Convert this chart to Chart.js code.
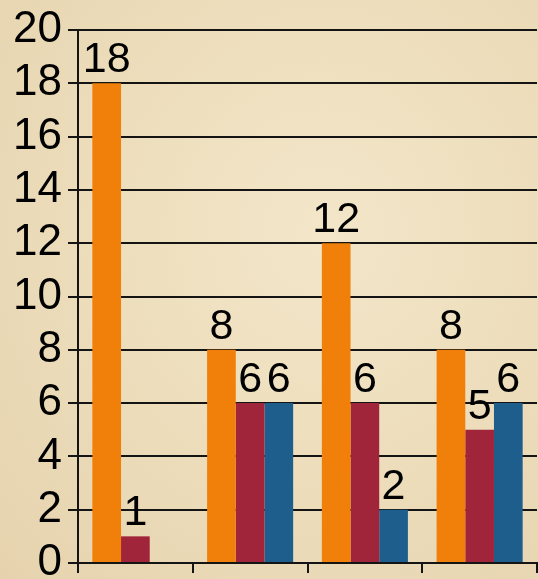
<!DOCTYPE html>
<html>
<head>
<meta charset="utf-8">
<script src="https://cdn.jsdelivr.net/npm/chart.js@4"></script>
<style>
  html, body { margin: 0; padding: 0; }
  body {
    width: 538px; height: 579px; overflow: hidden;
    background: radial-gradient(ellipse at 60% 40%, #f3e6c9 0%, #ecdcba 55%, #e6d3ae 100%);
  }
  #wrap { position: relative; width: 538px; height: 579px; }
</style>
</head>
<body>
<div id="wrap"><canvas id="chart"></canvas></div>
<script>
// --- data ---
const categories = ['A', 'B', 'C', 'D'];
const seriesOrange = [18, 8, 12, 8];
const seriesMaroon = [1, 6, 6, 5];
const seriesBlue = [null, 6, 2, 6];
const yTicks = [0, 2, 4, 6, 8, 10, 12, 14, 16, 18, 20];

const FONT = '"Liberation Sans", Arial, sans-serif';

// labels above each bar
const barLabels = {
  id: 'barLabels',
  afterDatasetsDraw(chart) {
    const ctx = chart.ctx;
    ctx.save();
    ctx.font = '43px ' + FONT;
    ctx.fillStyle = '#000';
    ctx.textAlign = 'center';
    ctx.textBaseline = 'alphabetic';
    chart.data.datasets.forEach((ds, i) => {
      chart.getDatasetMeta(i).data.forEach((bar, j) => {
        const v = ds.data[j];
        if (v === null || v === undefined) return;
        ctx.fillText(String(v), bar.x, bar.y - 11);
      });
    });
    ctx.restore();
  }
};

new Chart(document.getElementById('chart'), {
  type: 'bar',
  data: {
    labels: categories,
    datasets: [
      { data: seriesOrange, backgroundColor: '#f0800a' },
      { data: seriesMaroon, backgroundColor: '#a0243a' },
      { data: seriesBlue, backgroundColor: '#1e5e8c' }
    ]
  },
  options: {
    responsive: true,
    maintainAspectRatio: false,
    animation: false,
    layout: { padding: { top: 30, right: 1, bottom: 6, left: 0 } },
    plugins: { legend: { display: false }, tooltip: { enabled: false } },
    datasets: { bar: { categoryPercentage: 0.75, barPercentage: 1.0 } },
    scales: {
      x: {
        grid: { offset: true, drawOnChartArea: false, tickLength: 10, color: '#141414', lineWidth: 2 },
        border: { display: true, color: '#141414', width: 2 },
        ticks: { display: false },
        afterFit(scale) { scale.height = 10; scale.paddingLeft = 0; scale.paddingRight = 0; }
      },
      y: {
        min: 0, max: 20,
        afterBuildTicks(scale) { scale.ticks = yTicks.map(v => ({ value: v })); },
        grid: { color: '#141414', lineWidth: 2, tickLength: 10 },
        border: { display: true, color: '#141414', width: 2 },
        ticks: { color: '#000', padding: 6, autoSkip: false, font: { family: FONT, size: 44 } },
        afterFit(scale) { scale.width = 78; scale.paddingTop = 0; scale.paddingBottom = 0; }
      }
    }
  },
  plugins: [barLabels]
});
</script>
</body>
</html>
